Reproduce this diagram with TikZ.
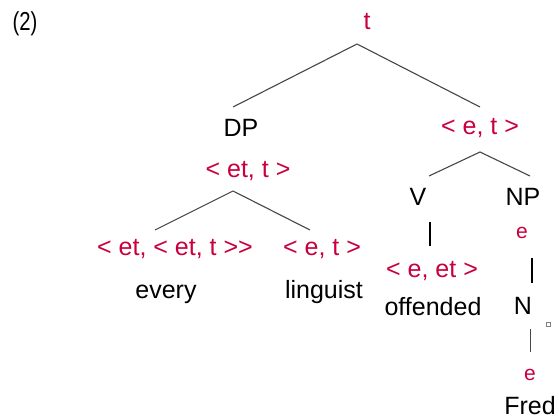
\documentclass[tikz,border=0pt]{standalone}
\usepackage{fontspec}
\setmainfont{Liberation Sans}
\definecolor{crim}{RGB}{200,0,62}
\definecolor{edge}{RGB}{70,70,70}
\begin{document}
\begin{tikzpicture}[x=1pt,y=-1pt,
  lbl/.style={anchor=base,inner sep=0pt,font=\fontsize{25}{30}\selectfont},
  typ/.style={lbl,text=crim},
  smalltyp/.style={anchor=base,inner sep=0pt,text=crim,font=\fontsize{21}{25}\selectfont},
  branch/.style={draw=edge,line width=1.1pt},
  bar/.style={draw=black,line width=2.2pt},
  thinbar/.style={draw=edge,line width=1pt}]
\useasboundingbox (0,0) rectangle (559,417);
% example number
\node[anchor=base,inner sep=0pt,font=\fontsize{26}{30}\selectfont] (num) at (25,31) {\scalebox{0.78}[1]{(2)}};
% root
\node[typ] (t) at (367,30) {t};
\node[lbl] (DP) at (241,136) {DP};
\node[typ] (et) at (480,135) {< e, t >};
\node[typ] (dpt) at (248,177) {< et, t >};
\node[typ] (det) at (175,255) {< et, < et, t >{}>};
\node[typ] (net) at (322,255) {< e, t >};
\node[lbl] (every) at (166,298) {every};
\node[lbl] (ling) at (324,298) {linguist};
\node[lbl] (V) at (418,205) {V};
\node[lbl] (NP) at (523,205) {NP};
\node[smalltyp] (eNP) at (522,238) {e};
\node[typ] (vt) at (432,277) {< e, et >};
\node[lbl] (off) at (433,315) {offended};
\node[lbl] (N) at (523,314) {N};
\node[smalltyp] (eN) at (530,380) {e};
\node[lbl] (Fred) at (530,414) {Fred};
% branch points
\coordinate (tA) at (357,44);
\coordinate (tL) at (233,107);
\coordinate (tR) at (480,107);
\coordinate (dA) at (233,191);
\coordinate (dL) at (155,230);
\coordinate (dR) at (310,230);
\coordinate (vA) at (480,152);
\coordinate (vL) at (429,176);
\coordinate (vR) at (530,176);
\coordinate (vb1) at (430,222);
\coordinate (vb2) at (430,246);
\coordinate (nb1) at (532,258);
\coordinate (nb2) at (532,283);
\coordinate (Nb1) at (530,329);
\coordinate (Nb2) at (530,352);
\draw[branch] (tL) -- (tA) -- (tR);
\draw[branch] (dL) -- (dA) -- (dR);
\draw[branch] (vL) -- (vA) -- (vR);
\draw[bar] (vb1) -- (vb2);
\draw[bar] (nb1) -- (nb2);
\draw[thinbar] (Nb1) -- (Nb2);
% small square
\draw[draw=edge!70,line width=0.7pt] (546.5,322.5) rectangle (550.5,326.5);
\end{tikzpicture}
\end{document}
